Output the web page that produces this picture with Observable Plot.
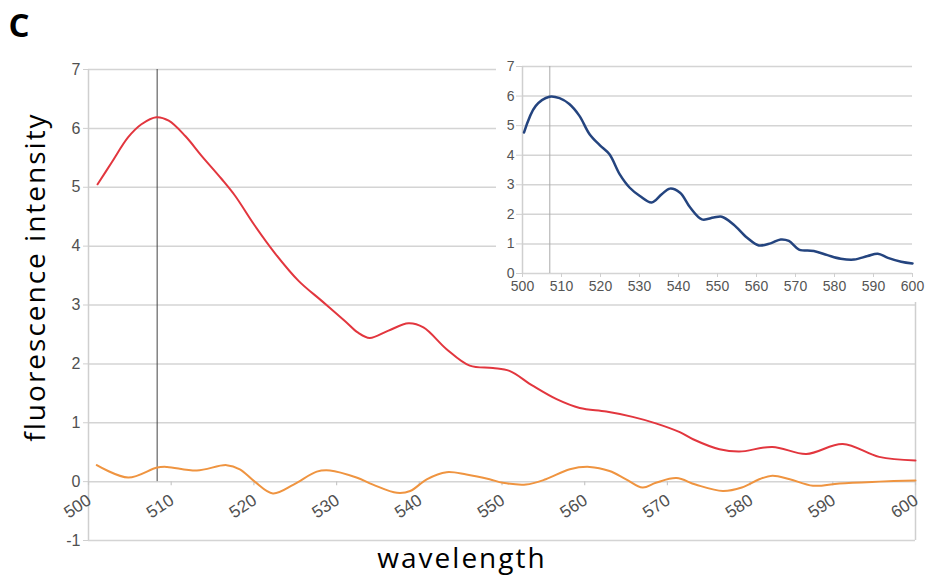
<!DOCTYPE html>
<html>
<head>
<meta charset="utf-8">
<script src="https://cdn.jsdelivr.net/npm/d3@7"></script>
<script src="https://cdn.jsdelivr.net/npm/@observablehq/plot@0.6"></script>
<style>
  body { margin: 0; background: #fff; }
  #wrap { position: relative; width: 925px; height: 580px; overflow: hidden; background: #fff; }
  #main { position: absolute; left: 0; top: 0; }
  #inset { position: absolute; left: 496px; top: 52px; background: #fff; }
</style>
</head>
<body>
<div id="wrap"><div id="main"></div><div id="inset"></div></div>
<script>
// ---- data ----
const redWavelength = [501.1,502.8,504.8,506.4,508.2,509.7,511.7,513.7,516.1,517.7,520.1,522.6,525.4,528.2,531,532.6,534,536.2,538.7,540.5,543.3,546.1,548.9,550.9,553.7,556.6,559.4,562.6,565.8,568.6,571.5,573.1,576.3,578.7,582.7,586.8,591.2,595.6,600];
const redIntensity  = [5.05,5.42,5.85,6.07,6.19,6.13,5.87,5.53,5.14,4.86,4.35,3.87,3.41,3.07,2.73,2.53,2.44,2.56,2.69,2.62,2.25,1.97,1.93,1.88,1.63,1.4,1.25,1.19,1.1,0.99,0.84,0.72,0.55,0.51,0.59,0.47,0.64,0.42,0.36];

const orangeWavelength = [501,504.8,508.3,509.5,513.1,516.7,518.3,520.1,522.3,524.8,527.6,529.2,532.4,534.4,537.3,538.9,540.9,543.3,545.7,548.5,550.1,552.9,555.3,558.2,560.6,563,565,567,568.6,571.1,573.4,576.7,579,581.1,582.7,584.8,587.6,590.8,595.6,600];
const orangeIntensity  = [0.28,0.07,0.24,0.25,0.19,0.28,0.21,0,-0.2,-0.05,0.17,0.19,0.07,-0.05,-0.19,-0.16,0.04,0.16,0.12,0.04,-0.02,-0.05,0.04,0.21,0.25,0.18,0.04,-0.1,-0.02,0.06,-0.05,-0.16,-0.1,0.04,0.1,0.04,-0.07,-0.03,0,0.02];

const blueWavelength = [500.4,503.4,506.9,509.5,512,514.6,517.2,519.8,522.3,524.9,527.5,530.1,533.1,535.7,537.8,540.4,543,546,549,551.1,554.1,557.6,560.6,563.6,566.2,568.3,570.9,574.7,578.2,581.6,585,588.5,591.1,593.7,597.1,600];
const blueIntensity  = [4.77,5.67,5.98,5.93,5.73,5.33,4.71,4.34,4.03,3.36,2.9,2.62,2.4,2.68,2.87,2.73,2.23,1.83,1.89,1.92,1.66,1.21,0.95,1.02,1.15,1.1,0.81,0.76,0.62,0.5,0.47,0.59,0.67,0.53,0.4,0.34];

const xTicks = [500,510,520,530,540,550,560,570,580,590,600];
const yTicksMain = [-1,0,1,2,3,4,5,6,7];
const yTicksInset = [0,1,2,3,4,5,6,7];
const peakMain = 508.3;
const peakInset = 507;
const panelLabel = "C";
const xLabel = "wavelength";
const yLabel = "fluorescence intensity";

const zip = (xs, ys) => xs.map((x, i) => ({x, y: ys[i]}));
const red = zip(redWavelength, redIntensity);
const orange = zip(orangeWavelength, orangeIntensity);
const blue = zip(blueWavelength, blueIntensity);

const tickFont = "Liberation Sans, Arial, sans-serif";
const labelFont = "Open Sans, sans-serif";

// ---- main chart ----
const main = Plot.plot({
  width: 925, height: 580,
  marginLeft: 88, marginRight: 10, marginTop: 69, marginBottom: 40,
  style: {fontFamily: tickFont, background: "transparent", overflow: "visible"},
  x: {domain: [500, 600]},
  y: {domain: [-1, 7]},
  marks: [
    Plot.ruleY(yTicksMain, {y: d => d, stroke: "#d4d4d4", strokeWidth: 1.5}),
    Plot.ruleX([500, 600], {x: d => d, stroke: "#cfcfcf", strokeWidth: 1.5}),
    Plot.axisY({ticks: yTicksMain, tickSize: 5, tickPadding: 3, fontSize: 16, stroke: "#cfcfcf", fill: "#505050", label: null, tickFormat: d => String(d)}),
    Plot.axisX({ticks: [], label: null}),
    Plot.ruleX(xTicks, {x: d => d, y1: 0, y2: 0, insetBottom: -4, stroke: "#c8c8c8", strokeWidth: 1.2}),
    Plot.text(xTicks, {x: d => d, y: 0, text: d => String(d), rotate: -33, textAnchor: "end", dx: 1, dy: 17, fontSize: 17, fill: "#505050", fontFamily: tickFont}),
    Plot.ruleX([peakMain], {x: d => d, y1: 0, y2: 7, stroke: "#444", strokeWidth: 1}),
    Plot.line(orange, {x: "x", y: "y", stroke: "#ef9440", strokeWidth: 2, curve: "catmull-rom"}),
    Plot.line(red, {x: "x", y: "y", stroke: "#e2363e", strokeWidth: 2, curve: "catmull-rom"}),
    Plot.text([panelLabel], {frameAnchor: "top-left", text: d => d, dx: -80, dy: -56, textAnchor: "start", lineAnchor: "top", fontSize: 33, fontWeight: "bold", fill: "#000", fontFamily: labelFont}),
    Plot.text([yLabel], {frameAnchor: "left", text: d => d, dx: -52, dy: -28, rotate: -90, textAnchor: "middle", fontSize: 28, fill: "#000", fontFamily: labelFont}),
    Plot.text([xLabel], {frameAnchor: "bottom", text: d => d, dx: -40, dy: 27, textAnchor: "middle", fontSize: 28, fill: "#000", fontFamily: labelFont})
  ]
});
d3.select(main).selectAll("text").filter(function() {
  return this.textContent === xLabel || this.textContent === yLabel;
}).attr("letter-spacing", "2");
document.getElementById("main").appendChild(main);

// ---- inset ----
const inset = Plot.plot({
  width: 424, height: 250,
  marginLeft: 26, marginRight: 8, marginTop: 14, marginBottom: 29,
  style: {fontFamily: tickFont, background: "#fff", overflow: "visible"},
  x: {domain: [500, 600]},
  y: {domain: [0, 7]},
  marks: [
    Plot.ruleY(yTicksInset, {y: d => d, stroke: "#d4d4d4", strokeWidth: 1.5}),
    Plot.ruleX([500], {x: d => d, stroke: "#cfcfcf", strokeWidth: 1.5}),
    Plot.ruleX([peakInset], {x: d => d, y1: 0, y2: 7, stroke: "#aaa", strokeWidth: 1}),
    Plot.axisY({ticks: yTicksInset, tickSize: 6, tickPadding: 2, fontSize: 14, stroke: "#cfcfcf", fill: "#555", label: null, tickFormat: d => String(d)}),
    Plot.axisX({ticks: xTicks, tickSize: 4, tickPadding: 4, fontSize: 14, stroke: "#cfcfcf", fill: "#555", label: null, tickFormat: d => String(d)}),
    Plot.line(blue, {x: "x", y: "y", stroke: "#24447f", strokeWidth: 2.5, curve: "catmull-rom"})
  ]
});
document.getElementById("inset").appendChild(inset);
</script>
</body>
</html>
